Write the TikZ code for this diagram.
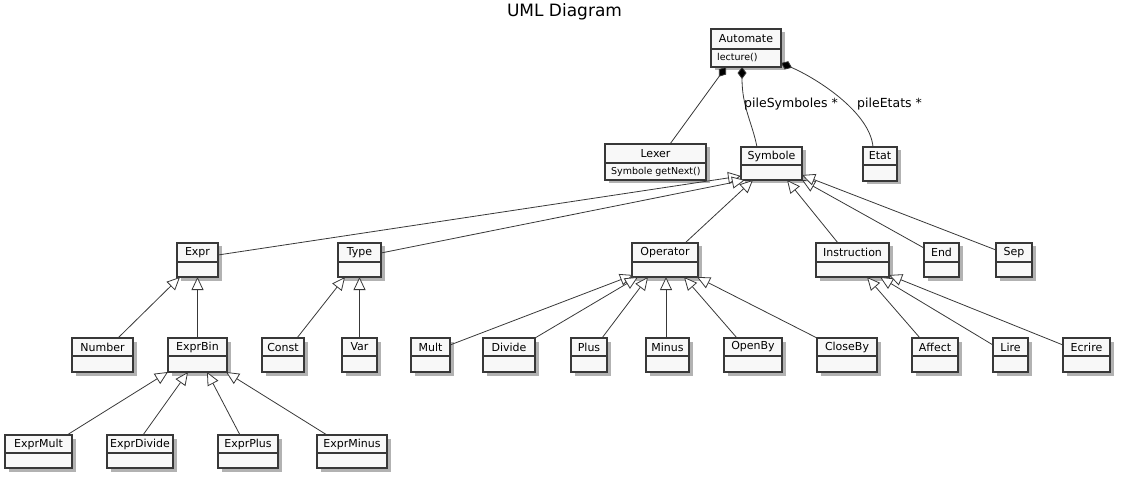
\documentclass[tikz,border=0pt]{standalone}
\usepackage{fontspec}
\setmainfont{DejaVu Sans}
\usetikzlibrary{arrows.meta,shadows,calc}
\definecolor{boxfill}{HTML}{F8F8F8}
\definecolor{boxline}{HTML}{383838}
\definecolor{edgecol}{HTML}{383838}
\tikzset{
  cls/.style={draw=boxline, fill=boxfill, line width=1.4pt, inner sep=0pt, outer sep=0pt,
    drop shadow={shadow xshift=3.5pt, shadow yshift=-3.5pt, fill=black, opacity=0.3}},
  clsline/.style={draw=boxline, line width=1.2pt},
  clsname/.style={font=\fontsize{11}{13}\selectfont, inner sep=0pt},
  clsbody/.style={font=\fontsize{9.5}{11}\selectfont, inner sep=0pt},
  gen/.style={draw=edgecol, line width=0.8pt, -{Triangle[fill=white, length=13pt, width=12pt, line width=0.8pt]}},
  comp/.style={draw=edgecol, line width=0.8pt, -{Diamond[fill=black, length=12pt, width=9pt]}},
  rolelabel/.style={font=\fontsize{12.5}{14}\selectfont, inner sep=0pt, anchor=west},
}
\newcommand\umlclass[8]{%
  \node[cls, minimum width={(#3-#2)*1pt}, minimum height={(#6-#4)*1pt}] (#1) at ({(#2+#3)/2},{(#4+#6)/2}) {};
  \draw[clsline] (#2,#5) -- (#3,#5);
  \node[clsname] (#1-t) at ({(#2+#3)/2},{(#4+#5)/2}) {#7};
  \node[clsbody, anchor=west] (#1-b) at (#2+6,{(#5+#6)/2}) {#8};
}
\begin{document}
\begin{tikzpicture}[x=1pt,y=-1pt]
\useasboundingbox (0,0) rectangle (1121,478);
\node[font=\fontsize{17}{20}\selectfont, inner sep=0pt] (title) at (564.5,12) {UML Diagram};

% row 0/1
\umlclass{Automate}{711}{781}{29}{49}{67}{Automate}{lecture()}
\umlclass{Lexer}{605}{706}{144}{163}{180}{Lexer}{Symbole getNext()}
\umlclass{Symbole}{741}{802}{147}{165}{180}{Symbole}{}
\umlclass{Etat}{863}{897}{147}{165}{181}{Etat}{}
% row 2
\umlclass{Expr}{177}{218}{243}{262}{277}{Expr}{}
\umlclass{Type}{338}{381}{243}{262}{277}{Type}{}
\umlclass{Operator}{632}{698}{243}{262}{277}{Operator}{}
\umlclass{Instruction}{816}{889}{243}{262}{277}{Instruction}{}
\umlclass{End}{924}{959}{243}{262}{277}{End}{}
\umlclass{Sep}{996}{1032}{243}{262}{277}{Sep}{}
% row 3
\umlclass{Number}{72}{133}{338}{356}{372}{Number}{}
\umlclass{ExprBin}{168}{227}{338}{356}{372}{ExprBin}{}
\umlclass{Const}{262}{304}{338}{356}{372}{Const}{}
\umlclass{Var}{342}{377}{338}{356}{372}{Var}{}
\umlclass{Mult}{411}{450}{338}{356}{372}{Mult}{}
\umlclass{Divide}{483}{535}{338}{356}{372}{Divide}{}
\umlclass{Plus}{571}{607}{338}{356}{372}{Plus}{}
\umlclass{Minus}{646}{689}{338}{356}{372}{Minus}{}
\umlclass{OpenBy}{724}{782}{338}{356}{372}{OpenBy}{}
\umlclass{CloseBy}{817}{877}{338}{356}{372}{CloseBy}{}
\umlclass{Affect}{912}{958}{338}{356}{372}{Affect}{}
\umlclass{Lire}{993}{1028}{338}{356}{372}{Lire}{}
\umlclass{Ecrire}{1063}{1110}{338}{356}{372}{Ecrire}{}
% row 4
\umlclass{ExprMult}{5}{72}{435}{453}{468}{ExprMult}{}
\umlclass{ExprDivide}{107}{173}{435}{453}{468}{ExprDivide}{}
\umlclass{ExprPlus}{218}{278}{435}{453}{468}{ExprPlus}{}
\umlclass{ExprMinus}{317}{387}{435}{453}{468}{ExprMinus}{}

% compositions
\draw[comp] ([xshift=14.5pt]Lexer.north) -- ([xshift=-20pt]Automate.south);
\draw[comp] ([xshift=-14.5pt]Symbole.north) .. controls +(-5,-25) and +(0,40) .. ([xshift=-4pt]Automate.south);
\draw[comp] ([xshift=-7pt]Etat.north) .. controls +(-3,-35) and +(35,15) .. ([yshift=-15pt]Automate.east);
\node[rolelabel] (lblSym) at (744,104) {pileSymboles *};
\node[rolelabel] (lblEtat) at (857,104) {pileEtats *};

% Symbole generalisations
\draw[gen] ([yshift=5pt]Expr.east) -- ([yshift=4pt]Symbole.south west);
\draw[gen] ([yshift=7pt]Type.east) -- ([xshift=4pt]Symbole.south west);
\draw[gen] ([xshift=20pt]Operator.north) -- ([xshift=12pt]Symbole.south west);
\draw[gen] ([xshift=-14.5pt]Instruction.north) -- ([xshift=-15pt]Symbole.south east);
\draw[gen] ([yshift=12pt]End.west) -- (Symbole.south east);
\draw[gen] ([yshift=10pt]Sep.west) -- ([yshift=5pt]Symbole.south east);

% Expr
\draw[gen] ([xshift=15.5pt]Number.north) -- ([xshift=3pt]Expr.south west);
\draw[gen] (Expr.south |- ExprBin.north) -- (Expr.south);
% Type
\draw[gen] ([xshift=14pt]Const.north) -- ([xshift=7pt]Type.south west);
\draw[gen] (Type.south |- Var.north) -- (Type.south);
% Operator
\draw[gen] ([yshift=10pt]Mult.east) -- ([xshift=1pt,yshift=2pt]Operator.south west);
\draw[gen] (Divide.north east) -- ([xshift=6pt]Operator.south west);
\draw[gen] ([xshift=13pt]Plus.north) -- ([xshift=16pt]Operator.south west);
\draw[gen] ([xshift=1pt]Operator.south |- Minus.north) -- ([xshift=1pt]Operator.south);
\draw[gen] ([xshift=-16pt]OpenBy.north) -- ([xshift=-14pt]Operator.south east);
\draw[gen] (CloseBy.north west) -- ([xshift=-1pt]Operator.south east);
% Instruction
\draw[gen] ([xshift=-15pt]Affect.north) -- ([xshift=-22pt]Instruction.south east);
\draw[gen] ([yshift=10pt]Lire.west) -- ([xshift=-9pt]Instruction.south east);
\draw[gen] ([yshift=10pt]Ecrire.west) -- ([yshift=2pt]Instruction.south east);
% ExprBin
\draw[gen] ([xshift=-5pt]ExprMult.north east) -- (ExprBin.south west);
\draw[gen] ([xshift=3pt]ExprDivide.north) -- ([xshift=20pt]ExprBin.south west);
\draw[gen] ([xshift=-8pt]ExprPlus.north) -- ([xshift=-20pt]ExprBin.south east);
\draw[gen] ([xshift=10pt]ExprMinus.north west) -- ([xshift=-1pt]ExprBin.south east);
\end{tikzpicture}
\end{document}
